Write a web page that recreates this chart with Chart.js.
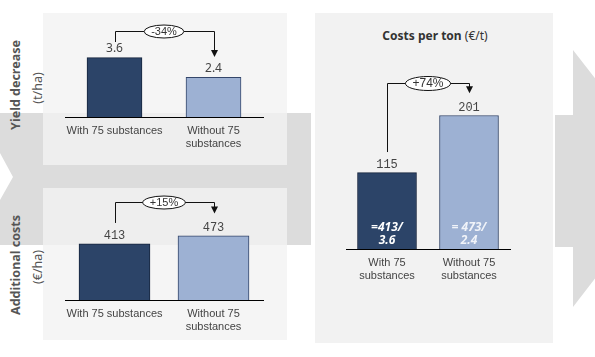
<!DOCTYPE html>
<html><head><meta charset="utf-8">
<script src="https://cdn.jsdelivr.net/npm/chart.js@4/dist/chart.umd.min.js"></script>
<style>
html,body{margin:0;padding:0;background:#fff;}
#wrap{position:relative;width:595px;height:357px;overflow:hidden;font-family:"Liberation Sans",Arial,sans-serif;}
svg.bg{position:absolute;left:0;top:0;}
canvas{position:absolute;}
.side{position:absolute;transform:translate(-50%,-50%) rotate(-90deg);white-space:nowrap;color:#555;font-family:"Noto Sans",sans-serif;}
.ttl{position:absolute;left:435px;top:35px;transform:translate(-50%,-50%);white-space:nowrap;color:#333;font-family:"Noto Sans",sans-serif;font-size:12px;}
</style></head>
<body><div id="wrap">
<svg class="bg" width="595" height="357">
 <polygon points="0,113 311,113 311,245 0,245 0,200 13,177 0,153" fill="#dcdcdc"/>
 <polygon points="555,115 573,115 573,50 673,178 573,307 573,247 555,247" fill="#dcdcdc"/>
 <rect x="43" y="13" width="244" height="152" fill="rgba(243,243,243,0.8)"/>
 <rect x="43" y="188" width="244" height="152" fill="rgba(243,243,243,0.8)"/>
 <rect x="315" y="13" width="238" height="330" fill="#f2f2f2"/>
</svg>
<div class="side" style="left:15px;top:85px;font-size:12.5px;font-weight:bold;">Yield decrease</div>
<div class="side" style="left:37px;top:88px;font-size:12.5px;">(t/ha)</div>
<div class="side" style="left:15px;top:265px;font-size:12.5px;font-weight:bold;">Additional costs</div>
<div class="side" style="left:37px;top:267px;font-size:12.5px;">(€/ha)</div>
<div class="ttl"><b>Costs per ton</b> (€/t)</div>
<canvas id="c1" width="300" height="165" style="left:0;top:0"></canvas>
<canvas id="c2" width="300" height="165" style="left:0;top:175px"></canvas>
<canvas id="c3" width="270" height="357" style="left:300px;top:0"></canvas>
</div>
<script>
// ---- data ----
const categoriesLeft = ["With 75 substances", ["Without 75", "substances"]];
const categoriesRight = [["With 75", "substances"], ["Without 75", "substances"]];
const yieldValues = [3.6, 2.4];        // t/ha
const costValues = [413, 473];         // €/ha
const perTonValues = [115, 201];       // €/t
const changeLabels = ["-34%", "+15%", "+74%"];
const formulaLabels = [["=413/", "3.6"], ["= 473/", "2.4"]];

const barColors = ['#2c4468', '#9db1d3'];
const barBorders = ['#16243d', '#34466a'];

const annot = {
  id: 'annot',
  afterDatasetsDraw(chart, args, o) {
    const ctx = chart.ctx;
    const bars = chart.getDatasetMeta(0).data;
    const vals = chart.data.datasets[0].data;
    ctx.save();
    ctx.textAlign = 'center'; ctx.textBaseline = 'middle';
    ctx.fillStyle = '#444'; ctx.font = o.valueFont;
    bars.forEach((b, i) => ctx.fillText(vals[i].toFixed(o.decimals), b.x, b.y - o.valueGap));
    if (o.inner) {
      ctx.font = 'italic bold 12px "Noto Sans", sans-serif';
      const base = chart.chartArea.bottom;
      bars.forEach((b, i) => {
        ctx.fillStyle = i === 0 ? '#ffffff' : 'rgba(255,255,255,0.85)';
        ctx.fillText(o.inner[i][0], b.x, base - 21);
        ctx.fillText(o.inner[i][1], b.x, base - 8.5);
      });
    }
    const b1 = bars[0], b2 = bars[1];
    const x1 = Math.round(b1.x) + 0.5, x2 = Math.round(b2.x) + 0.5;
    const y0 = b1.y - o.startGap;
    const yl = Math.round(Math.min(b1.y, b2.y) - o.levelGap) + 0.5;
    const y1 = b2.y - o.tipGap;
    ctx.strokeStyle = '#111'; ctx.lineWidth = 1;
    ctx.beginPath(); ctx.moveTo(x1, y0); ctx.lineTo(x1, yl); ctx.lineTo(x2, yl); ctx.lineTo(x2, y1 - 6); ctx.stroke();
    ctx.beginPath(); ctx.moveTo(x2 - 3.5, y1 - 7); ctx.lineTo(x2 + 3.5, y1 - 7); ctx.lineTo(x2, y1); ctx.closePath();
    ctx.fillStyle = '#111'; ctx.fill();
    const mx = (b1.x + b2.x) / 2;
    ctx.font = o.ovalFont;
    const tw = ctx.measureText(o.change).width;
    ctx.beginPath(); ctx.ellipse(mx, yl, tw / 2 + 7, o.ovalH / 2, 0, 0, Math.PI * 2);
    ctx.fillStyle = '#fff'; ctx.fill(); ctx.stroke();
    ctx.fillStyle = '#333'; ctx.fillText(o.change, mx, yl + 0.5);
    ctx.restore();
  }
};

function makeChart(id, labels, values, yMax, barW, padding, ann) {
  return new Chart(document.getElementById(id), {
    type: 'bar',
    data: {
      labels: labels,
      datasets: [{
        data: values,
        backgroundColor: barColors,
        borderColor: barBorders,
        borderWidth: 1,
        barThickness: barW
      }]
    },
    options: {
      responsive: false,
      devicePixelRatio: 1,
      animation: false,
      layout: { padding: padding },
      plugins: { legend: { display: false }, tooltip: { enabled: false }, annot: ann },
      scales: {
        x: {
          grid: { display: false, drawTicks: false },
          border: { display: true, color: '#000', width: 1 },
          ticks: { padding: 7, color: '#444', autoSkip: false, maxRotation: 0, minRotation: 0,
                   font: { family: '"Liberation Sans", Arial, sans-serif', size: 11, lineHeight: 1.2 } },
          afterFit: s => { s.height = 40; }
        },
        y: { display: false, min: 0, max: yMax }
      }
    },
    plugins: [annot]
  });
}

makeChart('c1', categoriesLeft, yieldValues, 6, 55, { left: 65, right: 37, top: 18, bottom: 8 },
  { decimals: 1, valueFont: '12px "Noto Sans", sans-serif', valueGap: 9, startGap: 15.6, levelGap: 26.3, tipGap: 20.3,
    change: changeLabels[0], ovalFont: '11px "Liberation Sans", sans-serif', ovalH: 13 });
makeChart('c2', categoriesLeft, costValues, 700, 71, { left: 65, right: 37, top: 30, bottom: 0 },
  { decimals: 0, valueFont: '12px "Liberation Mono", monospace', valueGap: 8, startGap: 21, levelGap: 33.6, tipGap: 22.3,
    change: changeLabels[1], ovalFont: '11px "Liberation Sans", sans-serif', ovalH: 13 });
makeChart('c3', categoriesRight, perTonValues, 250, 59, { left: 46, right: 60, top: 83, bottom: 68 },
  { decimals: 0, valueFont: '12px "Liberation Mono", monospace', valueGap: 8, startGap: 20.6, levelGap: 33, tipGap: 22.4,
    change: changeLabels[2], ovalFont: '12px "Liberation Sans", sans-serif', ovalH: 14, inner: formulaLabels });
</script>
</body></html>
